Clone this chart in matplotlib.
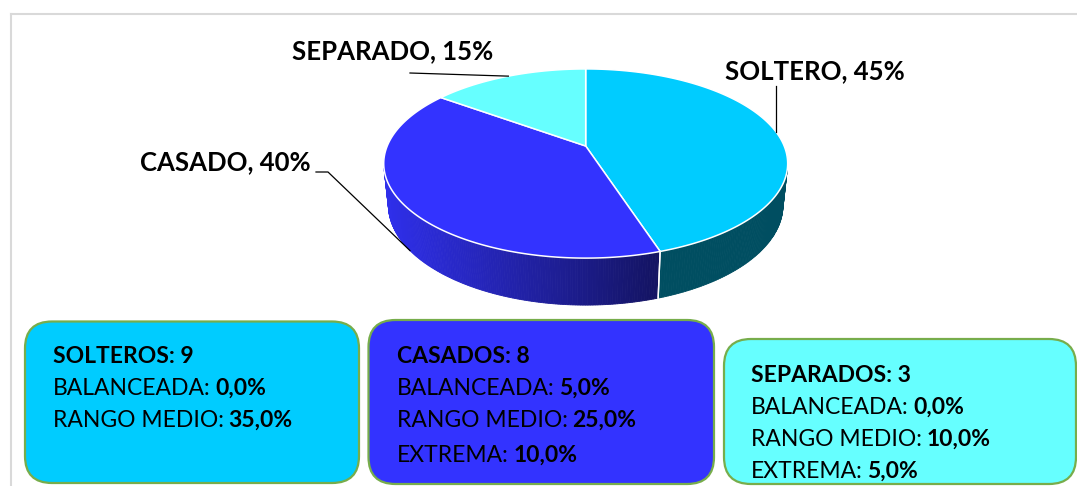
import numpy as np
import matplotlib
matplotlib.use("Agg")
import matplotlib.pyplot as plt
from matplotlib.patches import Polygon, FancyBboxPatch
from matplotlib.colors import to_rgb

plt.rcParams["font.family"] = ["Lato", "DejaVu Sans"]

# ── Data ──────────────────────────────────────────────────────────────────────
pie_labels = ["SOLTERO", "CASADO", "SEPARADO"]
pie_shares = [45, 40, 15]
pie_colors = ["#00CCFF", "#3333FF", "#66FFFF"]

group_names  = ["SOLTEROS", "CASADOS", "SEPARADOS"]
group_counts = [9, 8, 3]
balanceada   = [0.0, 5.0, 0.0]
rango_medio  = [35.0, 25.0, 10.0]
extrema      = [None, 10.0, 5.0]

# ── 3D pie geometry (perspective view, pixel units) ───────────────────────────
CX, CY = 585.7, 146.0          # projected centre of the top face
FOCAL, DIST = 951.5, 4.794
ELEV = np.deg2rad(27.4)
THICK = 0.238


def project(phi, z=0.0):
    X, Y = np.cos(phi), np.sin(phi)
    c, s = np.cos(ELEV), np.sin(ELEV)
    w = Y * c + DIST - z * s
    v = Y * s + z * c
    return CX + FOCAL * X / w, CY - FOCAL * v / w


def shade(x):
    # darker toward the right, like the reference lighting
    return np.clip(0.92 - 0.54 * (x - 384) / 276, 0.38, 0.95)


def pct(v):
    return f"{v:.1f}%".replace(".", ",")


fig = plt.figure(figsize=(10.77, 4.86), dpi=100)
ax = fig.add_axes([0, 0, 1, 1])
ax.set_xlim(0, 1077)
ax.set_ylim(486, 0)
ax.axis("off")

# chart frame
ax.plot([11, 11], [14, 486], color="#D9D9D9", lw=1.5)
ax.plot([11, 1077], [14, 14], color="#D9D9D9", lw=1.5)

edges = np.deg2rad(90 - 360 * np.cumsum([0] + pie_shares) / 100)
vis_limit = -1 / (DIST * np.cos(ELEV))

# ── side walls ────────────────────────────────────────────────────────────────
for i, col in enumerate(pie_colors):
    a0, a1 = edges[i], edges[i + 1]
    phis = np.linspace(a0, a1, 240)
    base = np.array(to_rgb(col))
    for p, q in zip(phis[:-1], phis[1:]):
        if np.sin(0.5 * (p + q)) >= vis_limit:
            continue
        x0, y0 = project(p)
        x1, y1 = project(q)
        x2, y2 = project(q, -THICK)
        x3, y3 = project(p, -THICK)
        fc = base * shade(0.5 * (x0 + x1))
        ax.add_patch(Polygon([(x0, y0), (x1, y1), (x2, y2), (x3, y3)],
                             closed=True, fc=fc, ec=fc, lw=0.6))
    # white seam where a slice boundary lies on the visible wall
    for a in (a0, a1):
        if np.sin(a) < vis_limit:
            xa, ya = project(a)
            xb, yb = project(a, -THICK)
            ax.plot([xa, xb], [ya, yb], color="white", lw=1.0)

# ── top face ──────────────────────────────────────────────────────────────────
for i, col in enumerate(pie_colors):
    phis = np.linspace(edges[i], edges[i + 1], 200)
    xs, ys = project(phis)
    pts = [(CX, CY)] + list(zip(xs, ys))
    ax.add_patch(Polygon(pts, closed=True, fc=col, ec="white", lw=1.1,
                         joinstyle="round"))

# ── data labels with leader lines ─────────────────────────────────────────────
mids = 0.5 * (edges[:-1] + edges[1:])
lab_style = dict(fontsize=18.5, fontweight="bold", color="black",
                 ha="center", va="center")

# SOLTERO
ex, ey = project(mids[0])
ax.plot([ex, ex], [86, ey], color="black", lw=0.9)
ax.text(815, 71, f"{pie_labels[0]}, {pie_shares[0]}%", **lab_style)

# CASADO (leader to the bottom rim)
ex, ey = project(mids[1], -THICK)
ax.plot([316, 328, ex], [172, 172, ey], color="black", lw=0.9)
ax.text(225, 162, f"{pie_labels[1]}, {pie_shares[1]}%", **lab_style)

# SEPARADO
ex, ey = project(mids[2])
ax.plot([410, ex], [73, ey], color="black", lw=0.9)
ax.text(393, 51, f"{pie_labels[2]}, {pie_shares[2]}%", **lab_style)

# ── summary boxes ─────────────────────────────────────────────────────────────
box_rects = [(25, 321.5, 334, 161.5), (368.5, 320, 345.5, 164), (724, 339, 352, 145)]
box_text_x = [53, 397, 751]
box_text_y = [[356, 388, 420], [356, 388, 420, 455], [375, 407, 439, 471]]

renderer = fig.canvas.get_renderer()
FS = 16.5


def rich_line(x, y, normal, bold):
    t = ax.text(x, y, normal, fontsize=FS, ha="left", va="center")
    w = t.get_window_extent(renderer).width
    ax.text(x + w + 4.5, y, bold, fontsize=FS, fontweight="bold",
            ha="left", va="center")


for i in range(3):
    x, y, w, h = box_rects[i]
    ax.add_patch(FancyBboxPatch((x, y), w, h,
                                boxstyle="round,pad=0,rounding_size=27",
                                fc=pie_colors[i], ec="#77AD4B", lw=1.6))
    tx, ty = box_text_x[i], box_text_y[i]
    ax.text(tx, ty[0], f"{group_names[i]}: {group_counts[i]}", fontsize=FS,
            fontweight="bold", ha="left", va="center")
    rich_line(tx, ty[1], "BALANCEADA:", pct(balanceada[i]))
    rich_line(tx, ty[2], "RANGO MEDIO:", pct(rango_medio[i]))
    if extrema[i] is not None:
        rich_line(tx, ty[3], "EXTREMA:", pct(extrema[i]))

fig.savefig("out.png", dpi=100)
